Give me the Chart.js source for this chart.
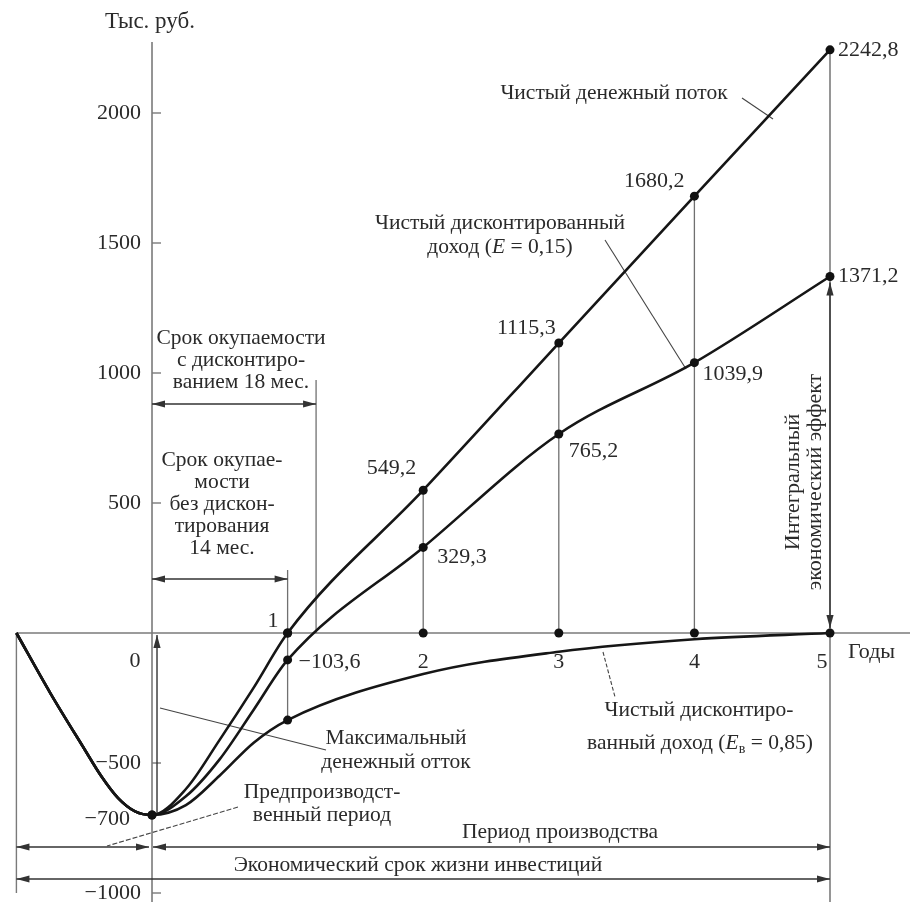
<!DOCTYPE html>
<html><head><meta charset="utf-8">
<script src="https://cdn.jsdelivr.net/npm/chart.js@4.4.1/dist/chart.umd.min.js"></script>
<style>html,body{margin:0;padding:0;background:#fff}canvas{display:block}</style>
</head><body>
<canvas id="c" width="910" height="902"></canvas>
<script>
// ---- data (thousand roubles by year) ----
const preYears   = [-1, -0.75, -0.5, -0.375, -0.25, -0.125];   // pre-production period (shared curve)
const preValues  = [0, -231, -445, -550, -635, -686];
const prodYears  = [0, 0.25, 0.5, 0.75, 1, 2, 3, 4, 5];
const netCashFlow = [-700, -600, -410, -210, 0, 549.2, 1115.3, 1680.2, 2242.8];
const npvE015     = [-700, -628, -485, -295, -103.6, 329.3, 765.2, 1039.9, 1371.2];
const npvE085     = [-700, -662, -548, -422, -335, -158, -72, -24, 0];
const markedYears = [1, 2, 3, 4, 5];
const yTicks      = [2000, 1500, 1000, 500, -500, -1000];
const xTickLabels = ['1', '2', '3', '4', '5'];
const maxOutflow  = -700;
const paybackDiscYear = 1.21;   // where the E=0,15 curve crosses zero in the figure

const pts = (xs, ys) => xs.map((x, i) => ({x, y: ys[i]}));
const isYear = c => Number.isInteger(c.raw.x) && c.raw.x >= 0;
const lineDs = (data, radius) => ({
  data, borderColor: '#161616', borderWidth: 2.6, fill: false,
  cubicInterpolationMode: 'monotone', pointRadius: radius,
  pointBackgroundColor: '#111', pointBorderWidth: 0
});

const FONT = '"Liberation Serif", "DejaVu Serif", serif';
const TXT = '#2a2a2a';
const FS = 21.5, NS = 22;

function txt(ctx, s, x, y, align = 'center', size = FS, style = '') {
  ctx.font = `${style} ${size}px ${FONT}`;
  ctx.textAlign = align; ctx.textBaseline = 'middle'; ctx.fillStyle = TXT;
  ctx.fillText(s, x, y);
}
function runs(ctx, parts, cx, y, size = FS) {
  const f = p => `${p.i ? 'italic ' : ''}${p.sub ? Math.round(size * 0.65) : size}px ${FONT}`;
  let tot = 0;
  parts.forEach(p => { ctx.font = f(p); p.w = ctx.measureText(p.t).width; tot += p.w; });
  let x = cx - tot / 2;
  ctx.textAlign = 'left'; ctx.textBaseline = 'middle'; ctx.fillStyle = TXT;
  parts.forEach(p => { ctx.font = f(p); ctx.fillText(p.t, x, y + (p.sub ? 6 : 0)); x += p.w; });
}
function seg(ctx, x1, y1, x2, y2, color = '#555', w = 1, dash = null) {
  ctx.save(); ctx.strokeStyle = color; ctx.lineWidth = w;
  if (dash) ctx.setLineDash(dash);
  ctx.beginPath(); ctx.moveTo(x1, y1); ctx.lineTo(x2, y2); ctx.stroke(); ctx.restore();
}
function head(ctx, x, y, ang, color = '#222') {
  const L = 13, W = 3.6, c = Math.cos(ang), s = Math.sin(ang);
  ctx.save(); ctx.fillStyle = color; ctx.beginPath(); ctx.moveTo(x, y);
  ctx.lineTo(x - L * c + W * s, y - L * s - W * c);
  ctx.lineTo(x - L * c - W * s, y - L * s + W * c);
  ctx.closePath(); ctx.fill(); ctx.restore();
}
function arrow(ctx, x1, y1, x2, y2, a1, a2, color = '#333', w = 1.6) {
  seg(ctx, x1, y1, x2, y2, color, w);
  const ang = Math.atan2(y2 - y1, x2 - x1);
  if (a2) head(ctx, x2, y2, ang, color);
  if (a1) head(ctx, x1, y1, ang + Math.PI, color);
}

const deco = {
  id: 'deco',
  beforeDatasetsDraw(chart) {
    const ctx = chart.ctx, X = v => chart.scales.x.getPixelForValue(v), Y = v => chart.scales.y.getPixelForValue(v);
    const x0 = X(0), y0 = Y(0);
    // axes
    seg(ctx, X(-1), y0, 910, y0, '#7a7a7a', 1.6);
    seg(ctx, x0, 42, x0, 902, '#7a7a7a', 1.6);
    seg(ctx, X(-1), y0, X(-1), 893, '#7a7a7a', 1.4);
    yTicks.forEach(v => seg(ctx, x0, Y(v), x0 + 9, Y(v), '#7a7a7a', 1.4));
    // drop lines
    seg(ctx, X(5), Y(netCashFlow[8]), X(5), 902, '#8a8a8a', 1.8);
    [2, 3, 4].forEach(yr => seg(ctx, X(yr), Y(netCashFlow[prodYears.indexOf(yr)]), X(yr), y0, '#707070', 1.3));
    seg(ctx, X(1), 570, X(1), Y(npvE085[4]), '#707070', 1.3);
    seg(ctx, X(paybackDiscYear), 380, X(paybackDiscYear), y0, '#707070', 1.3);
    // payback arrows
    arrow(ctx, x0, 404, X(paybackDiscYear), 404, true, true);
    arrow(ctx, x0, 579, X(1), 579, true, true);
    // integral effect arrow
    arrow(ctx, X(5), Y(npvE015[8]) + 6, X(5), y0 - 5, true, true, '#333', 1.4);
    // max outflow arrow
    arrow(ctx, x0 + 5, Y(maxOutflow), x0 + 5, y0 + 2, false, true, '#333', 1.4);
    // period arrows
    arrow(ctx, X(-1), 847, x0 - 3, 847, true, true);
    arrow(ctx, x0 + 1, 847, X(5), 847, true, true);
    arrow(ctx, X(-1), 879, X(5), 879, true, true);
    // leader lines
    seg(ctx, 742, 98, 773, 119, '#444', 1.1);
    seg(ctx, 605, 240, 686, 369, '#444', 1.1);
    seg(ctx, 603, 652, 615, 697, '#444', 1.1, [4, 2]);
    seg(ctx, 160, 708, 326, 750, '#444', 1.1);
    seg(ctx, 238, 807, 107, 846, '#444', 1.1, [5, 2]);
  },
  afterDatasetsDraw(chart) {
    const ctx = chart.ctx, X = v => chart.scales.x.getPixelForValue(v), Y = v => chart.scales.y.getPixelForValue(v);
    const x0 = X(0), y0 = Y(0);
    txt(ctx, 'Тыс. руб.', 150, 22, 'center', 23);
    yTicks.forEach(v => txt(ctx, (v < 0 ? '−' : '') + Math.abs(v), x0 - 11, Y(v), 'right', NS));
    txt(ctx, '0', x0 - 17, y0 + 28, 'center', NS);
    txt(ctx, '−' + Math.abs(maxOutflow), x0 - 22, Y(maxOutflow) + 4, 'right', NS);
    markedYears.forEach((yr, i) => {
      if (yr === 1) txt(ctx, xTickLabels[i], X(yr) - 9, y0 - 12, 'right', NS);
      else if (yr === 5) txt(ctx, xTickLabels[i], X(yr) - 8, y0 + 29, 'center', NS);
      else txt(ctx, xTickLabels[i], X(yr), y0 + 29, 'center', NS);
    });
    txt(ctx, 'Годы', X(5) + 18, y0 + 19, 'left', NS);
    const f = v => (v < 0 ? '−' : '') + Math.abs(v).toFixed(1).replace('.', ',');
    const i5 = 8, i4 = 7, i3 = 6, i2 = 5, i1 = 4;
    txt(ctx, f(netCashFlow[i5]), X(5) + 8, Y(netCashFlow[i5]), 'left', NS);
    txt(ctx, f(npvE015[i5]), X(5) + 8, Y(npvE015[i5]), 'left', NS);
    txt(ctx, f(netCashFlow[i4]), X(4) - 10, Y(netCashFlow[i4]) - 15, 'right', NS);
    txt(ctx, f(npvE015[i4]), X(4) + 8, Y(npvE015[i4]) + 12, 'left', NS);
    txt(ctx, f(netCashFlow[i3]), X(3) - 3, Y(netCashFlow[i3]) - 15, 'right', NS);
    txt(ctx, f(npvE015[i3]), X(3) + 10, Y(npvE015[i3]) + 17, 'left', NS);
    txt(ctx, f(netCashFlow[i2]), X(2) - 7, Y(netCashFlow[i2]) - 22, 'right', NS);
    txt(ctx, f(npvE015[i2]), X(2) + 14, Y(npvE015[i2]) + 10, 'left', NS);
    txt(ctx, f(npvE015[i1]), X(1) + 11, Y(npvE015[i1]) + 2, 'left', NS);
    // series captions
    txt(ctx, 'Чистый денежный поток', 614, 93);
    txt(ctx, 'Чистый дисконтированный', 500, 223);
    runs(ctx, [{t: 'доход ('}, {t: 'E', i: 1}, {t: ' = 0,15)'}], 500, 247);
    txt(ctx, 'Чистый дисконтиро-', 699, 710);
    runs(ctx, [{t: 'ванный доход ('}, {t: 'E', i: 1}, {t: 'в', sub: 1}, {t: ' = 0,85)'}], 700, 743);
    // payback captions
    ['Срок окупаемости', 'с дисконтиро-', 'ванием 18 мес.'].forEach((s, k) => txt(ctx, s, 241, 338 + 22 * k));
    ['Срок окупае-', 'мости', 'без дискон-', 'тирования', '14 мес.'].forEach((s, k) => txt(ctx, s, 222, 460 + 22 * k));
    ['Максимальный', 'денежный отток'].forEach((s, k) => txt(ctx, s, 396, 738 + 24 * k));
    ['Предпроизводст-', 'венный период'].forEach((s, k) => txt(ctx, s, 322, 792 + 23 * k));
    txt(ctx, 'Период производства', 560, 832);
    txt(ctx, 'Экономический срок жизни инвестиций', 418, 865);
    // rotated caption
    ctx.save(); ctx.translate(X(5) - 37, 482); ctx.rotate(-Math.PI / 2);
    txt(ctx, 'Интегральный', 0, 0, 'center', 22);
    txt(ctx, 'экономический эффект', 0, 22, 'center', 22);
    ctx.restore();
  }
};

const preXY = (ys) => pts(preYears.concat(prodYears), preValues.concat(ys));
new Chart(document.getElementById('c'), {
  type: 'line',
  data: {
    datasets: [
      lineDs(preXY(netCashFlow), c => (isYear(c) ? 4.5 : 0)),
      lineDs(preXY(npvE015), c => (isYear(c) ? 4.5 : 0)),
      lineDs(preXY(npvE085), c => (c.raw.x === 1 ? 4.5 : 0)),
      {data: markedYears.map(x => ({x, y: 0})), showLine: false, pointRadius: 4.5,
       pointBackgroundColor: '#111', pointBorderWidth: 0}
    ]
  },
  options: {
    responsive: false, animation: false, devicePixelRatio: 1,
    layout: {padding: 0, autoPadding: false},
    plugins: {legend: {display: false}, tooltip: {enabled: false}},
    scales: {
      x: {type: 'linear', min: -1.121, max: 5.590, display: false},
      y: {type: 'linear', min: -1034.6, max: 2434.6, display: false}
    }
  },
  plugins: [deco]
});
</script>
</body></html>
